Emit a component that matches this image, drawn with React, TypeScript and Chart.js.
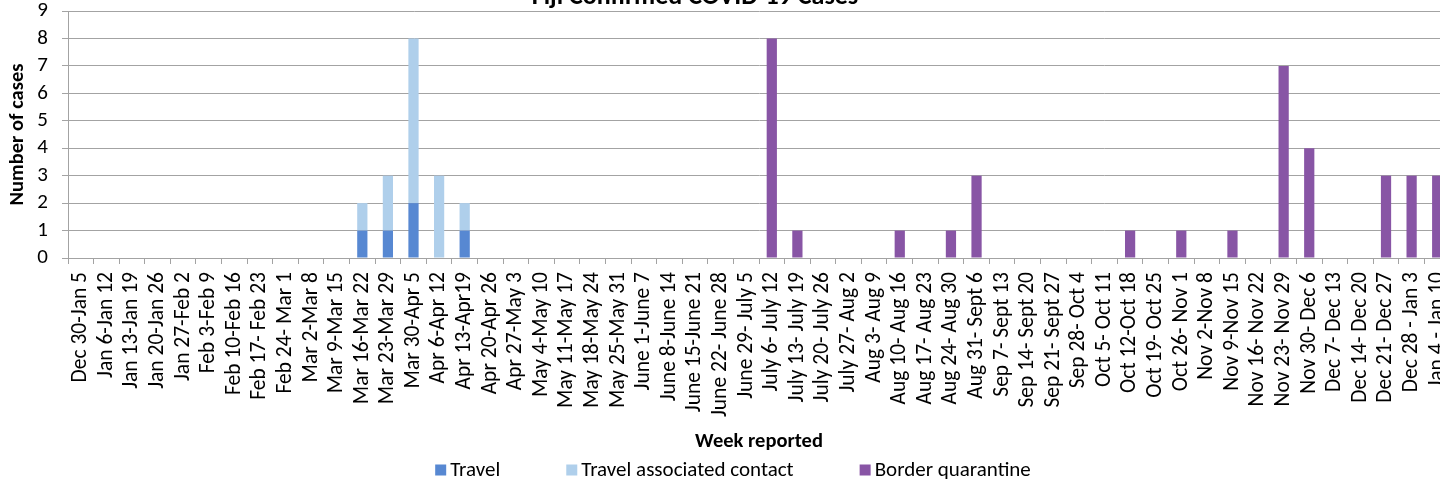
import React, { useEffect, useRef } from "react";
import { Chart, registerables } from "chart.js";

Chart.register(...registerables);

const chartTitle = "Fiji Confirmed COVID-19 Cases";
const yAxisTitle = "Number of cases";
const xAxisTitle = "Week reported";

const weekLabels: string[] = [
  "Dec 30-Jan 5", "Jan 6-Jan 12", "Jan 13-Jan 19", "Jan 20-Jan 26", "Jan 27-Feb 2",
  "Feb 3-Feb 9", "Feb 10-Feb 16", "Feb 17- Feb 23", "Feb 24- Mar 1", "Mar 2-Mar 8",
  "Mar 9-Mar 15", "Mar 16-Mar 22", "Mar 23-Mar 29", "Mar 30-Apr 5", "Apr 6-Apr 12",
  "Apr 13-Apr19", "Apr 20-Apr 26", "Apr 27-May 3", "May 4-May 10", "May 11-May 17",
  "May 18-May 24", "May 25-May 31", "June 1-June 7", "June 8-June 14", "June 15-June 21",
  "June 22- June 28", "June 29- July 5", "July 6- July 12", "July 13- July 19", "July 20- July 26",
  "July 27- Aug 2", "Aug 3- Aug 9", "Aug 10- Aug 16", "Aug 17- Aug 23", "Aug 24- Aug 30",
  "Aug 31- Sept 6", "Sep 7- Sept 13", "Sep 14- Sept 20", "Sep 21- Sept 27", "Sep 28- Oct 4",
  "Oct 5- Oct 11", "Oct 12-Oct 18", "Oct 19- Oct 25", "Oct 26- Nov 1", "Nov 2-Nov 8",
  "Nov 9-Nov 15", "Nov 16- Nov 22", "Nov 23- Nov 29", "Nov 30- Dec 6", "Dec 7- Dec 13",
  "Dec 14- Dec 20", "Dec 21- Dec 27", "Dec 28 - Jan 3", "Jan 4 - Jan 10",
];

const travelCases: number[] = [
  0, 0, 0, 0, 0, 0, 0, 0, 0, 0,
  0, 1, 1, 2, 0, 1, 0, 0, 0, 0,
  0, 0, 0, 0, 0, 0, 0, 0, 0, 0,
  0, 0, 0, 0, 0, 0, 0, 0, 0, 0,
  0, 0, 0, 0, 0, 0, 0, 0, 0, 0,
  0, 0, 0, 0,
];

const travelContactCases: number[] = [
  0, 0, 0, 0, 0, 0, 0, 0, 0, 0,
  0, 1, 2, 6, 3, 1, 0, 0, 0, 0,
  0, 0, 0, 0, 0, 0, 0, 0, 0, 0,
  0, 0, 0, 0, 0, 0, 0, 0, 0, 0,
  0, 0, 0, 0, 0, 0, 0, 0, 0, 0,
  0, 0, 0, 0,
];

const borderQuarantineCases: number[] = [
  0, 0, 0, 0, 0, 0, 0, 0, 0, 0,
  0, 0, 0, 0, 0, 0, 0, 0, 0, 0,
  0, 0, 0, 0, 0, 0, 0, 8, 1, 0,
  0, 0, 1, 0, 1, 3, 0, 0, 0, 0,
  0, 1, 0, 1, 0, 1, 0, 7, 4, 0,
  0, 3, 3, 3,
];

const yTickValues: number[] = [0, 1, 2, 3, 4, 5, 6, 7, 8, 9];

const FONT = "Carlito, Lato, 'Liberation Sans', sans-serif";
const GRID = "#A3A3A3";

const titlePlugin = {
  id: "excelTitle",
  afterDraw(chart: any) {
    const ctx = chart.ctx;
    ctx.save();
    ctx.font = `bold 26px ${FONT}`;
    ctx.fillStyle = "#000";
    ctx.textAlign = "center";
    ctx.textBaseline = "alphabetic";
    ctx.fillText(chartTitle, chart.width * 0.476, chart.chartArea.top - 7);
    ctx.restore();
  },
};

const legendPlugin = {
  id: "excelLegend",
  afterDraw(chart: any) {
    const ctx = chart.ctx;
    ctx.save();
    ctx.font = `21px ${FONT}`;
    const box = 11;
    const gapText = 4;
    const gapItems = 66;
    const items = chart.data.datasets.map((ds: any) => ({
      label: ds.label as string,
      color: ds.backgroundColor as string,
      w: box + gapText + ctx.measureText(ds.label).width,
    }));
    const total =
      items.reduce((s: number, it: any) => s + it.w, 0) + gapItems * (items.length - 1);
    let x = chart.width / 2 + 3 - total / 2;
    const y = chart.height - 10;
    ctx.textBaseline = "middle";
    ctx.textAlign = "left";
    for (const it of items) {
      ctx.fillStyle = it.color;
      ctx.fillRect(x, y - box / 2, box, box);
      ctx.fillStyle = "#000";
      ctx.fillText(it.label, x + box + gapText, y + 1);
      x += it.w + gapItems;
    }
    ctx.restore();
  },
};

export default function App() {
  const canvasRef = useRef<HTMLCanvasElement | null>(null);

  useEffect(() => {
    if (!canvasRef.current) return;
    const chart = new Chart(canvasRef.current, {
      type: "bar",
      data: {
        labels: weekLabels,
        datasets: [
          {
            label: "Travel",
            data: travelCases,
            backgroundColor: "#5788D2",
            borderWidth: 0,
            barPercentage: 0.8,
            categoryPercentage: 0.5,
          },
          {
            label: "Travel associated contact",
            data: travelContactCases,
            backgroundColor: "#AFCFEB",
            borderWidth: 0,
            barPercentage: 0.8,
            categoryPercentage: 0.5,
          },
          {
            label: "Border quarantine",
            data: borderQuarantineCases,
            backgroundColor: "#8855A5",
            borderWidth: 0,
            barPercentage: 0.8,
            categoryPercentage: 0.5,
          },
        ],
      },
      options: {
        animation: false,
        responsive: true,
        maintainAspectRatio: false,
        layout: { padding: { top: 31, left: 0, right: 10, bottom: 26 } },
        plugins: {
          legend: { display: false },
          title: { display: false },
          tooltip: { enabled: false },
        },
        scales: {
          x: {
            stacked: true,
            offset: true,
            grid: {
              display: true,
              offset: true,
              drawOnChartArea: false,
              drawTicks: true,
              tickLength: 6,
              color: GRID,
              lineWidth: 1,
            },
            border: { display: true, color: GRID, width: 1 },
            ticks: {
              autoSkip: false,
              minRotation: 90,
              maxRotation: 90,
              padding: 8,
              color: "#000",
              font: { family: FONT, size: 21.5 },
            },
            title: {
              display: true,
              text: xAxisTitle,
              color: "#000",
              font: { family: FONT, size: 20.5, weight: "bold" },
              padding: { top: 0, bottom: 0 },
            },
            afterFit(scale: any) {
              scale.height = 196;
              scale.paddingLeft = 0;
              scale.paddingRight = 0;
            },
          },
          y: {
            stacked: true,
            min: 0,
            max: 9,
            afterBuildTicks(scale: any) {
              scale.ticks = yTickValues.map((v) => ({ value: v }));
            },
            grid: {
              display: true,
              drawOnChartArea: true,
              drawTicks: true,
              tickLength: 6,
              color: GRID,
              lineWidth: 1,
            },
            border: { display: true, color: GRID, width: 1 },
            ticks: {
              autoSkip: false,
              padding: 14,
              color: "#000",
              font: { family: FONT, size: 21 },
            },
            title: {
              display: true,
              text: yAxisTitle,
              color: "#000",
              font: { family: FONT, size: 20.5, weight: "bold" },
              padding: { top: 6, bottom: 0 },
            },
            afterFit(scale: any) {
              scale.width = 68;
            },
          },
        },
      },
      plugins: [titlePlugin, legendPlugin],
    } as any);
    return () => chart.destroy();
  }, []);

  return (
    <div
      style={{
        position: "fixed",
        left: 0,
        top: 0,
        width: 1440,
        height: 480,
        overflow: "hidden",
        background: "#fff",
      }}
    >
      <div style={{ position: "absolute", left: 0, top: -20, width: 1460, height: 500 }}>
        <canvas ref={canvasRef} />
      </div>
    </div>
  );
}
